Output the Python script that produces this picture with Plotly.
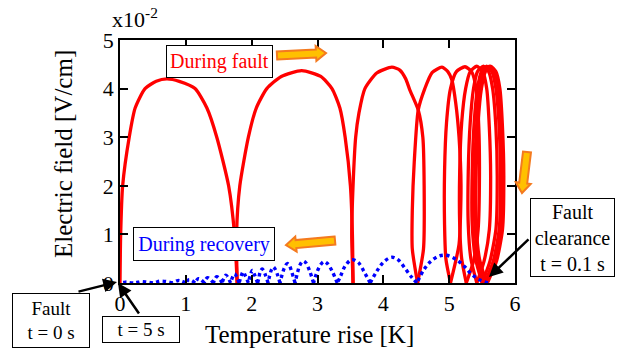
import math
import plotly.graph_objects as go

# ---------------- data (E in units of 1e-2 V/cm, temperature rise in K) ----------------
X_TICKS = [0, 1, 2, 3, 4, 5, 6]
Y_TICKS = [0, 1, 2, 3, 4, 5]

# During fault: one list per half-cycle arch
FAULT_T = [
    [0.00, 0.01, 0.04, 0.14, 0.23, 0.38, 0.55, 0.71, 0.90, 1.14, 1.32, 1.47, 1.65, 1.74, 1.78],
    [1.78, 1.77, 1.82, 1.95, 2.07, 2.23, 2.45, 2.76, 3.05, 3.22, 3.34, 3.42, 3.50, 3.53, 3.54],
    [3.54, 3.52, 3.54, 3.58, 3.63, 3.72, 3.90, 4.13, 4.25, 4.34, 4.40, 4.53, 4.60, 4.62, 4.61, 4.52],
    [4.52, 4.44, 4.44, 4.47, 4.53, 4.63, 4.74, 4.89, 4.98, 5.04, 5.10, 5.15, 5.18, 5.15, 5.02],
    [5.02, 4.95, 4.93, 4.93, 4.96, 5.02, 5.11, 5.24, 5.34, 5.41, 5.45, 5.46, 5.44, 5.37, 5.26],
    [5.26, 5.19, 5.16, 5.16, 5.19, 5.25, 5.32, 5.42, 5.51, 5.57, 5.61, 5.63, 5.61, 5.53, 5.42],
    [5.42, 5.33, 5.29, 5.29, 5.32, 5.37, 5.43, 5.52, 5.60, 5.66, 5.71, 5.73, 5.71, 5.62, 5.50],
    [5.50, 5.40, 5.35, 5.35, 5.38, 5.43, 5.49, 5.57, 5.65, 5.71, 5.76, 5.78, 5.76, 5.67, 5.54],
    [5.54, 5.44, 5.39, 5.39, 5.42, 5.47, 5.53, 5.61, 5.69, 5.75, 5.79, 5.81, 5.79, 5.70, 5.57],
    [5.57, 5.46, 5.41, 5.41, 5.44, 5.49, 5.55, 5.63, 5.71, 5.77, 5.81, 5.83, 5.81, 5.72, 5.58],
]
FAULT_E = [
    [0, 1, 2, 3, 3.6, 4.0, 4.15, 4.20, 4.15, 4.0, 3.6, 3, 2, 1, 0],
    [0, 1, 2, 3, 3.6, 4.0, 4.25, 4.37, 4.25, 4.0, 3.6, 3, 2, 1, 0],
    [0, 1, 2, 3, 3.5, 4.0, 4.32, 4.44, 4.38, 4.20, 3.98, 3.56, 3.0, 2.0, 0.7, 0],
    [0, 0.7, 1.5, 2.5, 3.56, 4.0, 4.33, 4.44, 4.35, 4.18, 3.7, 3.0, 2.0, 0.8, 0],
    [0, 0.5, 1.2, 2.3, 3.3, 4.0, 4.35, 4.45, 4.35, 4.0, 3.2, 2.2, 1.1, 0.45, 0],
    [0, 0.5, 1.2, 2.3, 3.3, 4.0, 4.35, 4.46, 4.35, 4.0, 3.2, 2.2, 1.1, 0.45, 0],
    [0, 0.5, 1.2, 2.3, 3.3, 4.0, 4.35, 4.46, 4.35, 4.0, 3.2, 2.2, 1.1, 0.45, 0],
    [0, 0.5, 1.2, 2.3, 3.3, 4.0, 4.35, 4.46, 4.35, 4.0, 3.2, 2.2, 1.1, 0.45, 0],
    [0, 0.5, 1.2, 2.3, 3.3, 4.0, 4.35, 4.46, 4.35, 4.0, 3.2, 2.2, 1.1, 0.45, 0],
    [0, 0.5, 1.2, 2.3, 3.3, 4.0, 4.35, 4.46, 4.35, 4.0, 3.2, 2.2, 1.1, 0.45, 0],
]

# During recovery: arches from fault clearance back to t = 5 s
RECOV_T = [
    [5.59, 5.47, 5.34, 5.24, 5.11, 4.96, 4.84, 4.71, 4.61, 4.51],
    [4.51, 4.43, 4.33, 4.23, 4.13, 4.01, 3.90, 3.80],
    [3.80, 3.72, 3.62, 3.52, 3.42, 3.35, 3.30],
    [3.30, 3.22, 3.15, 3.10, 3.04, 2.98, 2.94],
    [2.94, 2.88, 2.82, 2.78, 2.73, 2.69, 2.66],
    [2.66, 2.61, 2.57, 2.54, 2.50, 2.46, 2.43],
    [2.43, 2.39, 2.35, 2.33, 2.30, 2.27, 2.25],
    [2.25, 2.21, 2.18, 2.16, 2.13, 2.11, 2.09],
    [2.09, 2.04, 2.01, 1.98, 1.95],
    [1.95, 1.90, 1.87, 1.84, 1.81],
    [1.81, 1.77, 1.74, 1.71, 1.68],
    [1.68, 1.64, 1.61, 1.58, 1.55],
    [1.55, 1.51, 1.47, 1.44, 1.42],
    [1.42, 1.37, 1.33, 1.30, 1.28],
    [1.28, 1.23, 1.19, 1.16, 1.14],
    [1.14, 1.09, 1.05, 1.02, 1.00],
    [1.00, 0.93, 0.88, 0.84, 0.80],
    [0.80, 0.70, 0.62, 0.55, 0.50],
    [0.50, 0.40, 0.32, 0.25, 0.20],
    [0.20, 0.14, 0.10, 0.05, 0.00],
]
RECOV_E = [
    [0, 0.06, 0.18, 0.33, 0.48, 0.57, 0.55, 0.43, 0.26, 0],
    [0, 0.12, 0.30, 0.47, 0.53, 0.44, 0.24, 0],
    [0, 0.20, 0.42, 0.48, 0.35, 0.14, 0],
    [0, 0.25, 0.40, 0.44, 0.36, 0.18, 0],
    [0, 0.25, 0.42, 0.45, 0.36, 0.18, 0],
    [0, 0.22, 0.37, 0.40, 0.32, 0.16, 0],
    [0, 0.18, 0.30, 0.33, 0.27, 0.13, 0],
    [0, 0.16, 0.26, 0.29, 0.23, 0.11, 0],
    [0, 0.18, 0.26, 0.16, 0],
    [0, 0.16, 0.23, 0.14, 0],
    [0, 0.13, 0.19, 0.12, 0],
    [0, 0.11, 0.16, 0.10, 0],
    [0, 0.09, 0.13, 0.08, 0],
    [0, 0.08, 0.11, 0.07, 0],
    [0, 0.07, 0.09, 0.05, 0],
    [0, 0.05, 0.07, 0.04, 0],
    [0, 0.04, 0.05, 0.03, 0],
    [0, 0.03, 0.04, 0.02, 0],
    [0, 0.02, 0.03, 0.01, 0],
    [0, 0.01, 0.02, 0.01, 0],
]


def join(arches):
    out = []
    for i, a in enumerate(arches):
        if i:
            out.append(None)
        out.extend(a)
    return out


FONT = "Liberation Serif"
W, H = 622, 355
ML, MR, MT, MB = 120, 107, 40, 72
PLW, PLH = W - ML - MR, H - MT - MB


def pp(px, py):
    """pixel -> paper coordinates (decorations only)"""
    return (px - ML) / PLW, (H - MB - py) / PLH


fig = go.Figure()
fig.add_trace(go.Scatter(
    x=join(FAULT_T), y=join(FAULT_E), mode="lines",
    line=dict(color="#ff0000", width=3.3, shape="spline", smoothing=0.6),
    connectgaps=False, showlegend=False, hoverinfo="skip"))
fig.add_trace(go.Scatter(
    x=join(RECOV_T), y=join(RECOV_E), mode="lines",
    line=dict(color="#0000ff", width=3.4, dash="dot", shape="spline", smoothing=1.0),
    connectgaps=False, showlegend=False, hoverinfo="skip"))

axis_common = dict(showline=True, linecolor="black", linewidth=1.5, mirror="ticks",
                   ticks="inside", ticklen=8, tickwidth=1.5, tickcolor="black",
                   showgrid=False, zeroline=False,
                   tickfont=dict(family=FONT, size=22, color="black"))
fig.update_xaxes(range=[0, 6], tickvals=X_TICKS, ticktext=[str(v) for v in X_TICKS],
                 **axis_common)
fig.update_yaxes(range=[0, 5], tickvals=Y_TICKS, ticktext=[str(v) for v in Y_TICKS],
                 **axis_common)

annotations = []
# axis titles
x, y = pp(309.5, 334)
annotations.append(dict(xref="paper", yref="paper", x=x, y=y, text="Temperature rise [K]",
                        showarrow=False, xanchor="center", yanchor="middle",
                        font=dict(family=FONT, size=25, color="black")))
x, y = pp(63, 154)
annotations.append(dict(xref="paper", yref="paper", x=x, y=y, text="Electric field [V/cm]",
                        textangle=-90, showarrow=False, xanchor="center", yanchor="middle",
                        font=dict(family=FONT, size=25, color="black")))
x, y = pp(110, 18)
annotations.append(dict(xref="paper", yref="paper", x=x, y=y, text="x10<sup>-2</sup>",
                        showarrow=False, xanchor="left", yanchor="middle",
                        font=dict(family=FONT, size=22, color="black")))


def box(cx, cy, w, h, text, color, size):
    x, y = pp(cx, cy)
    return dict(xref="paper", yref="paper", x=x, y=y, text=text, showarrow=False,
                xanchor="center", yanchor="middle", width=w - 2, height=h - 2,
                borderpad=0, bordercolor="black", borderwidth=1, bgcolor="white",
                align="center", valign="middle",
                font=dict(family=FONT, size=size, color=color))


annotations.append(box(219.5, 61.5, 107, 33, "During fault", "#ff0000", 20))
annotations.append(box(204, 244, 142, 34, "During recovery", "#0000ff", 20))
annotations.append(box(51, 320.5, 78, 55, "Fault<br>t = 0 s", "black", 19))
annotations.append(box(141, 329.5, 78, 27, "t = 5 s", "black", 19))
annotations.append(box(572.5, 237.5, 85, 79, "Fault<br>clearance<br>t = 0.1 s", "black", 20))


def black_arrow(tail, head):
    x, y = pp(*head)
    return dict(xref="paper", yref="paper", x=x, y=y, ax=tail[0] - head[0],
                ay=tail[1] - head[1], axref="pixel", ayref="pixel", text="",
                showarrow=True, arrowhead=2, arrowsize=1.1, arrowwidth=2.5,
                arrowcolor="black")


annotations.append(black_arrow((77, 292), (117, 282)))
annotations.append(black_arrow((140, 315), (118, 283)))
annotations.append(black_arrow((530, 238), (489, 277)))

fig.update_layout(annotations=annotations)


def block_arrow(tail, tip, sw=4.0, hw=7.5, hl=10.0):
    dx, dy = tip[0] - tail[0], tip[1] - tail[1]
    L = math.hypot(dx, dy)
    ux, uy = dx / L, dy / L
    nx, ny = -uy, ux
    neck = (tip[0] - ux * hl, tip[1] - uy * hl)
    pts = [(tail[0] + nx * sw, tail[1] + ny * sw),
           (neck[0] + nx * sw, neck[1] + ny * sw),
           (neck[0] + nx * hw, neck[1] + ny * hw),
           tip,
           (neck[0] - nx * hw, neck[1] - ny * hw),
           (neck[0] - nx * sw, neck[1] - ny * sw),
           (tail[0] - nx * sw, tail[1] - ny * sw)]
    path = "M " + " L ".join("%.5f,%.5f" % pp(*p) for p in pts) + " Z"
    return dict(type="path", xref="paper", yref="paper", path=path,
                fillcolor="#ffc000", line=dict(color="#f47a1f", width=2), layer="above")


fig.update_layout(shapes=[
    block_arrow((277, 55.5), (326, 53)),
    block_arrow((335, 240.5), (286, 245)),
    block_arrow((527, 152), (522, 193)),
])

fig.update_layout(width=W, height=H, margin=dict(l=ML, r=MR, t=MT, b=MB, pad=0),
                  paper_bgcolor="white", plot_bgcolor="white",
                  font=dict(family=FONT, color="black"))

fig.write_html("out.html")
